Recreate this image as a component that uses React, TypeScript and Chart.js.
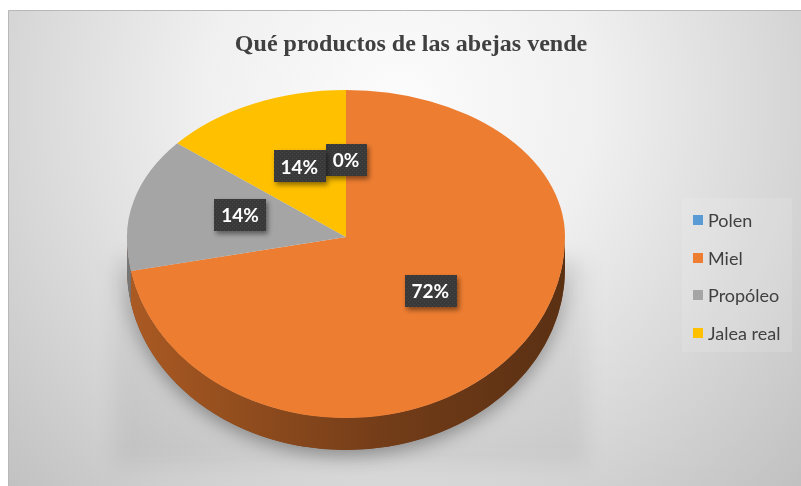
import React, { useEffect, useRef } from 'react';
import { Chart, registerables } from 'chart.js';

Chart.register(...registerables);

const TITLE = 'Qué productos de las abejas vende';
const categories = ['Polen', 'Miel', 'Propóleo', 'Jalea real'];
const values = [0, 72, 14, 14];
const colors = ['#5B9BD5', '#ED7D31', '#A5A5A5', '#FFC000'];

const W = 793;
const H = 476;
const TOP_SCALE = 147 / 219;
const BOTTOM_SCALE = 181 / 219;
const DEPTH = 32;

function shade(hex: string, f: number): string {
  const n = parseInt(hex.slice(1), 16);
  const r = Math.round(((n >> 16) & 255) * f);
  const g = Math.round(((n >> 8) & 255) * f);
  const b = Math.round((n & 255) * f);
  return `rgb(${r},${g},${b})`;
}

function arcProps(el: any) {
  return el.getProps(['x', 'y', 'startAngle', 'endAngle', 'outerRadius'], true);
}

let dotPattern: CanvasPattern | null = null;
function getPattern(ctx: CanvasRenderingContext2D) {
  if (dotPattern) return dotPattern;
  const c = document.createElement('canvas');
  c.width = 4;
  c.height = 4;
  const p = c.getContext('2d')!;
  p.fillStyle = '#393939';
  p.fillRect(0, 0, 4, 4);
  p.fillStyle = '#474747';
  p.fillRect(0, 0, 1, 1);
  p.fillRect(2, 2, 1, 1);
  dotPattern = ctx.createPattern(c, 'repeat');
  return dotPattern;
}

const pie3d = {
  id: 'pie3d',
  beforeDraw(chart: any) {
    const ctx: CanvasRenderingContext2D = chart.ctx;
    ctx.save();
    const g = ctx.createRadialGradient(392, 90, 0, 392, 90, 560);
    g.addColorStop(0, '#fcfcfc');
    g.addColorStop(0.35, '#f0f0f0');
    g.addColorStop(1, '#c0c0c0');
    ctx.fillStyle = g;
    ctx.fillRect(0, 0, chart.width, chart.height);
    // soft floor shadow behind the pie
    ctx.filter = 'blur(10px)';
    ctx.fillStyle = 'rgba(0,0,0,0.06)';
    ctx.fillRect(106, 250, 472, 205);
    ctx.filter = 'none';
    // legend panel
    ctx.fillStyle = 'rgba(255,255,255,0.12)';
    ctx.fillRect(674, 188, 110, 154);
    // border
    ctx.strokeStyle = '#b8b8b8';
    ctx.lineWidth = 1;
    ctx.beginPath();
    ctx.moveTo(0.5, chart.height);
    ctx.lineTo(0.5, 0.5);
    ctx.lineTo(chart.width, 0.5);
    ctx.stroke();
    ctx.restore();
  },
  beforeDatasetDraw(chart: any, args: any) {
    const ctx: CanvasRenderingContext2D = chart.ctx;
    const els = args.meta.data;
    if (!els.length) return;
    const { x: cx, y: cy, outerRadius: r } = arcProps(els[0]);
    const ry2 = r * BOTTOM_SCALE;
    const bg = chart.data.datasets[0].backgroundColor as string[];

    // shadow under the extruded side
    ctx.save();
    ctx.beginPath();
    ctx.ellipse(cx, cy, r, ry2, 0, 0, Math.PI);
    ctx.ellipse(cx, cy + DEPTH, r, ry2, 0, Math.PI, 0, true);
    ctx.closePath();
    ctx.shadowColor = 'rgba(0,0,0,0.35)';
    ctx.shadowBlur = 18;
    ctx.shadowOffsetY = 5;
    ctx.fillStyle = shade(bg[1], 0.5);
    ctx.fill();
    ctx.restore();

    // extruded sides
    ctx.save();
    els.forEach((el: any, i: number) => {
      const p = arcProps(el);
      const a = Math.max(p.startAngle, 0);
      const b = Math.min(p.endAngle, Math.PI);
      if (b <= a) return;
      const g = ctx.createLinearGradient(cx - r, 0, cx + r, 0);
      g.addColorStop(0, shade(bg[i], 0.72));
      g.addColorStop(0.3, shade(bg[i], 0.6));
      g.addColorStop(0.6, shade(bg[i], 0.48));
      g.addColorStop(1, shade(bg[i], 0.38));
      ctx.beginPath();
      ctx.ellipse(cx, cy, r, ry2, 0, a, b);
      ctx.ellipse(cx, cy + DEPTH, r, ry2, 0, b, a, true);
      ctx.closePath();
      ctx.fillStyle = g;
      ctx.fill();
    });
    ctx.restore();

    // top face: back half and front half with different perspective scales
    const halves: [number, number, number][] = [
      [0, Math.round(cy), TOP_SCALE],
      [Math.round(cy), chart.height, BOTTOM_SCALE],
    ];
    halves.forEach(([y0, y1, k]) => {
      ctx.save();
      ctx.beginPath();
      ctx.rect(0, y0, chart.width, y1 - y0);
      ctx.clip();
      ctx.translate(cx, cy);
      ctx.scale(1, k);
      ctx.translate(-cx, -cy);
      els.forEach((el: any) => el.draw(ctx));
      ctx.restore();
    });
    return false;
  },
  afterDatasetsDraw(chart: any) {
    const ctx: CanvasRenderingContext2D = chart.ctx;
    const els = chart.getDatasetMeta(0).data;
    const data = chart.data.datasets[0].data as number[];
    const total = data.reduce((s, v) => s + v, 0);
    ctx.save();
    ctx.font = 'bold 19px Lato';
    ctx.textAlign = 'center';
    ctx.textBaseline = 'middle';
    els.forEach((el: any, i: number) => {
      const p = arcProps(el);
      const mid = (p.startAngle + p.endAngle) / 2;
      const k = Math.sin(mid) < 0 ? TOP_SCALE : BOTTOM_SCALE;
      const lx = p.x + 0.5 * p.outerRadius * Math.cos(mid);
      const ly = p.y + 0.5 * p.outerRadius * k * Math.sin(mid) - 4;
      const txt = Math.round((data[i] / total) * 100) + '%';
      const tw = ctx.measureText(txt).width;
      const bw = tw + 14;
      const bh = 32;
      ctx.save();
      ctx.shadowColor = 'rgba(0,0,0,0.45)';
      ctx.shadowBlur = 5;
      ctx.shadowOffsetX = 2;
      ctx.shadowOffsetY = 3;
      ctx.fillStyle = getPattern(ctx) || '#3a3a3a';
      ctx.fillRect(Math.round(lx - bw / 2), Math.round(ly - bh / 2), Math.round(bw), bh);
      ctx.restore();
      ctx.fillStyle = '#ffffff';
      ctx.fillText(txt, lx, ly + 1);
    });
    ctx.restore();
  },
  afterDraw(chart: any) {
    const ctx: CanvasRenderingContext2D = chart.ctx;
    ctx.save();
    // title
    ctx.fillStyle = '#404040';
    ctx.font = 'bold 24px "Liberation Serif"';
    ctx.textAlign = 'center';
    ctx.textBaseline = 'middle';
    ctx.fillText(TITLE, 403, 35);
    // legend
    const labels = chart.data.labels as string[];
    const bg = chart.data.datasets[0].backgroundColor as string[];
    ctx.font = '18px Lato';
    ctx.textAlign = 'left';
    labels.forEach((lab, i) => {
      const y = 210 + i * 37.7;
      ctx.fillStyle = bg[i];
      ctx.fillRect(685, Math.round(y - 5), 10, 10);
      ctx.fillStyle = '#404040';
      ctx.fillText(lab, 700, y + 1);
    });
    ctx.restore();
  },
};

export default function App() {
  const ref = useRef<HTMLCanvasElement>(null);
  useEffect(() => {
    if (!ref.current) return;
    const chart = new Chart(ref.current, {
      type: 'pie',
      data: {
        labels: categories,
        datasets: [
          {
            data: values,
            backgroundColor: colors,
            borderWidth: 0,
            hoverOffset: 0,
          },
        ],
      },
      options: {
        responsive: false,
        animation: false,
        events: [],
        layout: { padding: { left: 119, right: 236, top: 8, bottom: 30 } },
        plugins: {
          legend: { display: false },
          title: { display: false },
          tooltip: { enabled: false },
        },
      },
      plugins: [pie3d],
    });
    return () => chart.destroy();
  }, []);
  return (
    <div style={{ position: 'absolute', left: 8, top: 10, width: W, height: H }}>
      <canvas ref={ref} width={W} height={H} style={{ display: 'block' }} />
    </div>
  );
}
